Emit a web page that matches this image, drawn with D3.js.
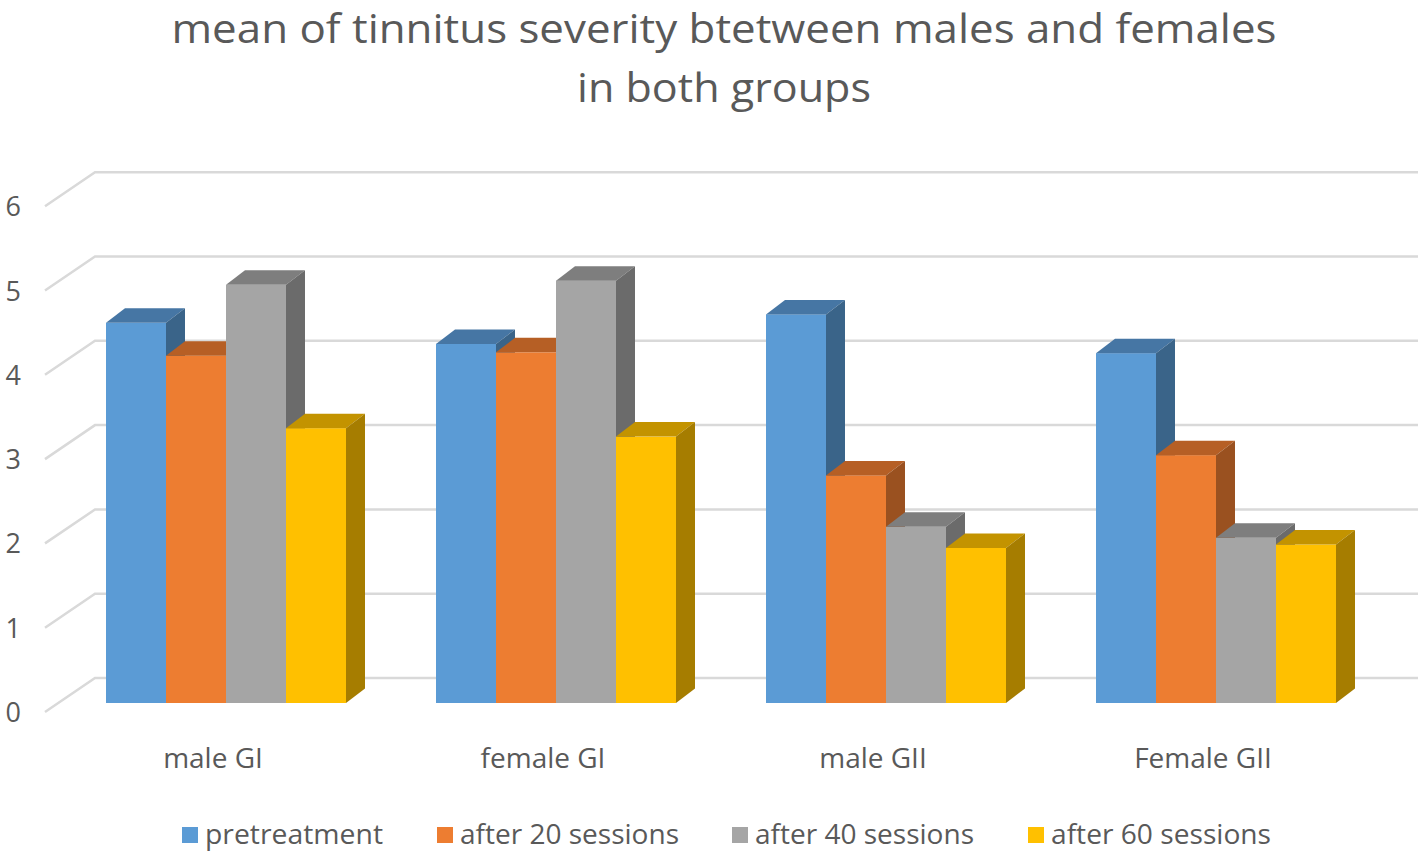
<!DOCTYPE html>
<html>
<head>
<meta charset="utf-8">
<script src="https://cdn.jsdelivr.net/npm/d3@7"></script>
<style>
body { margin: 0; background: #fff; }
text { font-family: "Open Sans", "Noto Sans", sans-serif; fill: #595959; }
</style>
</head>
<body>
<div class="chart-container"></div>
<script>
var categories = ["male GI", "female GI", "male GII", "Female GII"],
seriesNames = ["pretreatment", "after 20 sessions", "after 40 sessions", "after 60 sessions"],
pretreatment = [4.51, 4.26, 4.61, 4.15],
after20 = [4.12, 4.16, 2.70, 2.94],
after40 = [4.96, 5.01, 2.09, 1.96],
after60 = [3.26, 3.16, 1.84, 1.88],
yTicks = [0, 1, 2, 3, 4, 5, 6];

var seriesValues = [pretreatment, after20, after40, after60];
var colors = ["#5B9BD5", "#ED7D31", "#A5A5A5", "#FFC000"],
topColors = ["#4676A4", "#B65F25", "#7E7E7E", "#C39300"],
sideColors = ["#3A6489", "#9A5120", "#6B6B6B", "#A67D00"];

var width = 1424, height = 852;

// depth offsets of the fake 3d box
var wallDx = 50, wallDy = -34,   // full depth (axis front to back wall)
barDx = 19, barDy = -14.5,       // depth of one bar
barFrontDx = 13, barFrontDy = -9; // axis front to bar front face

var y = d3.scaleLinear()
.domain([0, 6])
.range([703, 703 - 6 * 84.3]);

var x0 = d3.scaleBand()
.domain(categories)
.range([61, 61 + 330 * 4])
.paddingInner(0)
.paddingOuter(0);

var x1 = d3.scaleBand()
.domain(d3.range(4))
.range([45, 285]);

var svg = d3.select(".chart-container").append("svg")
.attr("width", width)
.attr("height", height)

// title
svg.append("text")
.attr("x", 724).attr("y", 43)
.attr("text-anchor", "middle")
.style("font-size", "41px")
.attr("textLength", 1105)
.attr("lengthAdjust", "spacingAndGlyphs")
.text("mean of tinnitus severity btetween males and females")
svg.append("text")
.attr("x", 724).attr("y", 102)
.attr("text-anchor", "middle")
.style("font-size", "41px")
.attr("textLength", 294)
.attr("lengthAdjust", "spacingAndGlyphs")
.text("in both groups")

// gridlines: back wall + diagonal to the front
var grid = svg.append("g")
.selectAll("g")
.data(yTicks)
.enter().append("g")

grid.append("path")
.attr("d", function(d) {
   var yf = y(d) + (-barFrontDy);
   return "M45," + yf + "L" + (45 + wallDx) + "," + (yf + wallDy) + "L1418," + (yf + wallDy);
})
.attr("fill", "none")
.attr("stroke", "#D9D9D9")
.attr("stroke-width", 2.5)

grid.append("text")
.attr("x", 21)
.attr("y", function(d) {return y(d) + 19})
.attr("text-anchor", "end")
.style("font-size", "27px")
.text(function(d) {return d})

// bars, painted left to right so later front faces cover earlier sides
var bars = [];
categories.forEach(function(c, ci) {
   seriesValues.forEach(function(vals, si) {
       bars.push({cat: c, s: si, v: vals[ci]});
   })
})

var barG = svg.append("g")
.selectAll("g")
.data(bars)
.enter().append("g")

function bx(d) { return x0(d.cat) + x1(d.s); }

barG.append("rect")
.attr("x", bx)
.attr("y", function(d) {return y(d.v)})
.attr("width", x1.bandwidth())
.attr("height", function(d) {return y(0) - y(d.v)})
.attr("fill", function(d) {return colors[d.s]})

barG.append("path")
.attr("d", function(d) {
   var l = bx(d), r = l + x1.bandwidth(), t = y(d.v);
   return "M" + l + "," + t + "L" + r + "," + t + "L" + (r + barDx) + "," + (t + barDy) + "L" + (l + barDx) + "," + (t + barDy) + "Z";
})
.attr("fill", function(d) {return topColors[d.s]})

barG.append("path")
.attr("d", function(d) {
   var r = bx(d) + x1.bandwidth(), t = y(d.v), b = y(0);
   return "M" + r + "," + t + "L" + (r + barDx) + "," + (t + barDy) + "L" + (r + barDx) + "," + (b + barDy) + "L" + r + "," + b + "Z";
})
.attr("fill", function(d) {return sideColors[d.s]})

// category labels sit on the front edge of the floor
svg.append("g")
.selectAll("text")
.data(categories)
.enter().append("text")
.attr("x", function(d) {return x0(d) + x0.bandwidth() / 2 - barFrontDx})
.attr("y", 768)
.attr("text-anchor", "middle")
.style("font-size", "28px")
.text(function(d) {return d})

// legend
var legendX = [182, 437, 732, 1028];
var legend = svg.append("g")
.selectAll("g")
.data(seriesNames)
.enter().append("g")
.attr("transform", function(d, i) {return "translate(" + legendX[i] + ",827)"})

legend.append("rect")
.attr("width", 16).attr("height", 16)
.attr("fill", function(d, i) {return colors[i]})

legend.append("text")
.attr("x", 23).attr("y", 17)
.attr("textLength", function(d, i) {return [178, 219, 219, 220][i]})
.attr("lengthAdjust", "spacingAndGlyphs")
.style("font-size", "27px")
.text(function(d) {return d})
</script>
</body>
</html>
